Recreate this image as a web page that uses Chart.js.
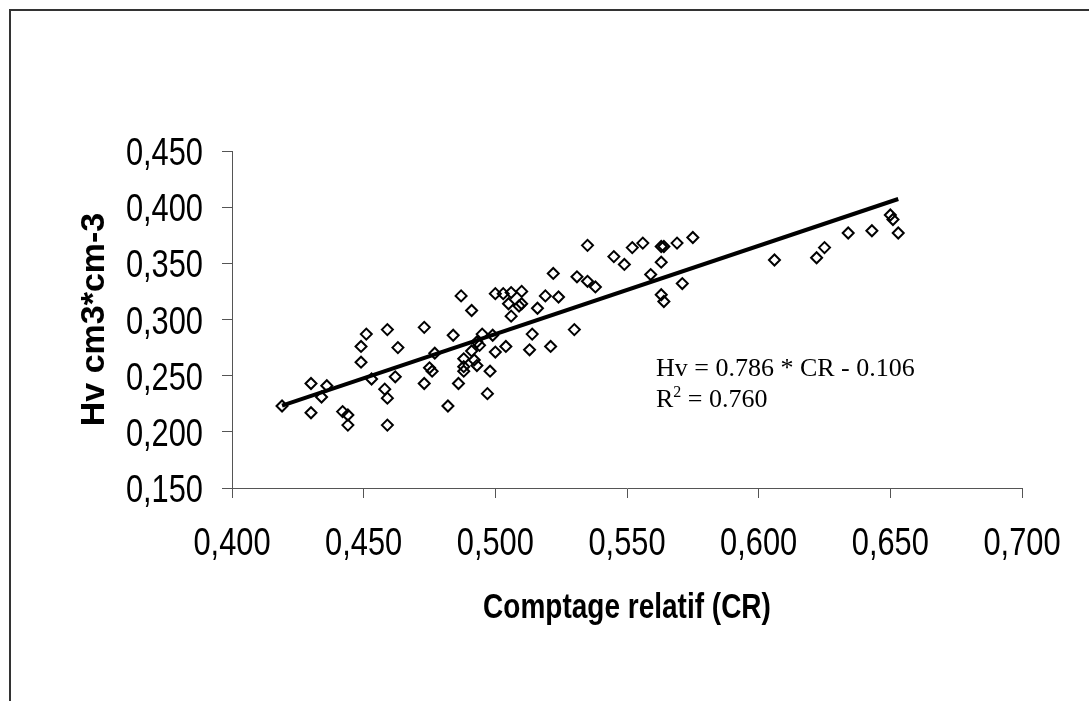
<!DOCTYPE html>
<html>
<head>
<meta charset="utf-8">
<script src="https://cdn.jsdelivr.net/npm/chart.js@4.4.1/dist/chart.umd.min.js"></script>
<style>
  html, body { margin: 0; padding: 0; background: #ffffff; }
  #wrap { position: relative; width: 1089px; height: 701px; overflow: hidden; }
  #frame { position: absolute; left: 9px; top: 9px; right: -5px; bottom: -5px; border-left: 2px solid #333; border-top: 2px solid #333; }
  #chart { position: absolute; left: 0; top: 0; }
</style>
</head>
<body>
<div id="wrap">
  <div id="frame"></div>
  <canvas id="chart" width="1089" height="701"></canvas>
</div>
<script>
// --- DATA ---
const crValues = [
  0.419, 0.430, 0.430, 0.434, 0.436, 0.442, 0.444, 0.444, 0.451, 0.449,
  0.449, 0.453, 0.458, 0.459, 0.459, 0.459, 0.463, 0.462, 0.473, 0.473,
  0.475, 0.476, 0.477, 0.482, 0.484, 0.486, 0.487, 0.491, 0.488, 0.488,
  0.488, 0.492, 0.493, 0.491, 0.493, 0.495, 0.494, 0.497, 0.498, 0.499,
  0.500, 0.500, 0.503, 0.504, 0.505, 0.506, 0.506, 0.510, 0.509, 0.510,
  0.513, 0.514, 0.521, 0.530, 0.516, 0.519, 0.524, 0.522, 0.531, 0.535,
  0.538, 0.535, 0.545, 0.549, 0.552, 0.556, 0.563, 0.564, 0.563, 0.559,
  0.563, 0.564, 0.571, 0.569, 0.575, 0.606, 0.622, 0.625, 0.634, 0.643,
  0.650, 0.651, 0.653
];
const hvValues = [
  0.223, 0.243, 0.217, 0.231, 0.241, 0.218, 0.215, 0.206, 0.287, 0.276,
  0.262, 0.247, 0.238, 0.230, 0.206, 0.291, 0.275, 0.249, 0.293, 0.243,
  0.257, 0.254, 0.270, 0.223, 0.286, 0.243, 0.321, 0.308, 0.265, 0.258,
  0.254, 0.264, 0.259, 0.272, 0.280, 0.287, 0.277, 0.234, 0.254, 0.286,
  0.271, 0.323, 0.323, 0.276, 0.314, 0.303, 0.324, 0.325, 0.312, 0.314,
  0.273, 0.287, 0.276, 0.291, 0.310, 0.321, 0.320, 0.341, 0.338, 0.334,
  0.329, 0.366, 0.356, 0.349, 0.364, 0.368, 0.365, 0.365, 0.351, 0.340,
  0.322, 0.316, 0.332, 0.368, 0.373, 0.353, 0.355, 0.364, 0.377, 0.379,
  0.393, 0.389, 0.377
];

// regression shown on the chart: Hv = 0.786 * CR - 0.106
const slope = 0.786;
const intercept = -0.106;
const fitRange = [0.419, 0.653];

const xTickValues = [0.400, 0.450, 0.500, 0.550, 0.600, 0.650, 0.700];
const yTickValues = [0.150, 0.200, 0.250, 0.300, 0.350, 0.400, 0.450];

const xTitle = 'Comptage relatif (CR)';
const yTitle = 'Hv cm3*cm-3';
const equationText = 'Hv = 0.786 * CR - 0.106';
const r2Value = '0.760';

// --- CHART ---
const points = crValues.map((x, i) => ({ x: x, y: hvValues[i] }));
const fitLine = fitRange.map(x => ({ x: x, y: slope * x + intercept }));

const formatTick = v => v.toFixed(3).replace('.', ',');
const axisColor = '#555555';
const TICK_FONT = "39px 'Liberation Sans', Arial, sans-serif";
const XTITLE_FONT = "bold 35px 'Liberation Sans', Arial, sans-serif";
const NARROW = 0.79; // the original uses a condensed face

// tick labels + x title drawn by hand so they can be squeezed horizontally
const narrowTextPlugin = {
    id: 'narrowText',
    afterDraw(chart) {
        const { ctx, scales, chartArea } = chart;
        ctx.save();
        ctx.fillStyle = '#000';
        ctx.font = TICK_FONT;
        ctx.textBaseline = 'alphabetic';

        ctx.textAlign = 'right';
        scales.y.ticks.forEach(t => {
            const py = scales.y.getPixelForValue(t.value);
            ctx.save();
            ctx.translate(scales.y.right - 29, py + 14);
            ctx.scale(NARROW, 1);
            ctx.fillText(formatTick(t.value), 0, 0);
            ctx.restore();
        });

        ctx.textAlign = 'center';
        scales.x.ticks.forEach(t => {
            const px = scales.x.getPixelForValue(t.value);
            ctx.save();
            ctx.translate(px, scales.x.top + 67);
            ctx.scale(NARROW, 1);
            ctx.fillText(formatTick(t.value), 0, 0);
            ctx.restore();
        });

        // x axis title
        ctx.font = XTITLE_FONT;
        ctx.save();
        ctx.translate((chartArea.left + chartArea.right) / 2, scales.x.top + 130);
        ctx.scale(0.8, 1);
        ctx.fillText(xTitle, 0, 0);
        ctx.restore();

        ctx.restore();
    }
};

// draws the equation + R² text
const equationPlugin = {
    id: 'equation',
    afterDatasetsDraw(chart) {
        const { ctx, scales } = chart;
        const x0 = scales.x.getPixelForValue(0.561);
        const y1 = scales.y.getPixelForValue(0.2495);
        const y2 = scales.y.getPixelForValue(0.2223);
        ctx.save();
        ctx.fillStyle = '#000';
        ctx.textBaseline = 'alphabetic';
        ctx.textAlign = 'left';
        ctx.font = "26px 'Liberation Serif', 'Times New Roman', serif";
        ctx.fillText(equationText, x0, y1);
        ctx.fillText('R', x0, y2);
        const rW = ctx.measureText('R').width;
        ctx.font = "16px 'Liberation Serif', 'Times New Roman', serif";
        ctx.fillText('2', x0 + rW, y2 - 10);
        const sW = ctx.measureText('2').width;
        ctx.font = "26px 'Liberation Serif', 'Times New Roman', serif";
        ctx.fillText(' = ' + r2Value, x0 + rW + sW, y2);
        ctx.restore();
    }
};

const ctx = document.getElementById('chart').getContext('2d');
new Chart(ctx, {
    type: 'scatter',
    data: {
        datasets: [
            {
                type: 'line',
                data: fitLine,
                borderColor: '#000',
                borderWidth: 4,
                pointRadius: 0,
                fill: false,
                order: 1
            },
            {
                data: points,
                pointStyle: 'rectRot',
                pointRadius: 5.5,
                pointBorderWidth: 2,
                borderColor: '#000',
                backgroundColor: 'rgba(0,0,0,0)',
                order: 2
            }
        ]
    },
    options: {
        responsive: false,
        animation: false,
        devicePixelRatio: 1,
        layout: { padding: { left: 0, top: 151, right: 67, bottom: 0 } },
        plugins: { legend: { display: false }, tooltip: { enabled: false } },
        scales: {
            x: {
                type: 'linear',
                min: 0.4,
                max: 0.7,
                afterBuildTicks: axis => { axis.ticks = xTickValues.map(v => ({ value: v })); },
                afterFit: axis => { axis.height = 213; },
                ticks: { display: false },
                grid: { drawOnChartArea: false, drawTicks: true, tickLength: 10, color: axisColor },
                border: { display: true, color: axisColor, width: 1 },
                title: { display: false }
            },
            y: {
                type: 'linear',
                min: 0.15,
                max: 0.45,
                afterBuildTicks: axis => { axis.ticks = yTickValues.map(v => ({ value: v })); },
                afterFit: axis => { axis.width = 232; },
                ticks: { display: false },
                grid: { drawOnChartArea: false, drawTicks: true, tickLength: 10, color: axisColor },
                border: { display: true, color: axisColor, width: 1 },
                title: {
                    display: true,
                    text: yTitle,
                    color: '#000',
                    font: { family: "'Liberation Sans', Arial, sans-serif", size: 34, weight: 'bold' },
                    padding: { top: 74, bottom: 0 }
                }
            }
        }
    },
    plugins: [narrowTextPlugin, equationPlugin]
});
</script>
</body>
</html>
